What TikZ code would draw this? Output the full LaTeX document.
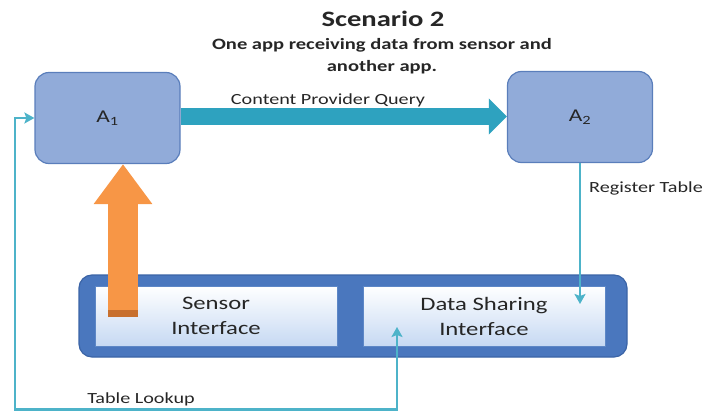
\documentclass[tikz,border=0pt]{standalone}
\usepackage{fontspec}
\setmainfont{Carlito}[FakeStretch=1.3]
\usetikzlibrary{arrows.meta,calc}
\definecolor{appfill}{HTML}{91ABD9}
\definecolor{appline}{HTML}{5A7EBB}
\definecolor{hostfill}{HTML}{4A77BE}
\definecolor{hostline}{HTML}{3B64A6}
\definecolor{ifbottom}{HTML}{C6D9F3}
\definecolor{ifline}{HTML}{5D87C6}
\definecolor{querycol}{HTML}{2EA2BF}
\definecolor{linkcol}{HTML}{4DB3C9}
\definecolor{sensorcol}{HTML}{F79646}
\definecolor{sensordark}{HTML}{C8702E}
\definecolor{txt}{HTML}{262626}
\begin{document}
\begin{tikzpicture}[x=1pt,y=-1pt,
  app/.style={draw=appline, line width=1.2pt, fill=appfill, rounded corners=14pt,
    minimum width=145pt, minimum height=91pt, font=\fontsize{18}{20}\selectfont, text=txt},
  host/.style={draw=hostline, line width=1.2pt, fill=hostfill, rounded corners=13pt,
    minimum width=548pt, minimum height=82pt},
  iface/.style={draw=ifline, line width=1pt, top color=white, bottom color=ifbottom,
    minimum width=242pt, minimum height=60pt, align=center, text=txt,
    font=\fontsize{19}{25}\selectfont},
  link/.style={draw=linkcol, line width=2.5pt, >={Stealth[length=10pt,width=11pt,inset=2pt]}},
  lbl/.style={text=txt, font=\fontsize{15.5}{18}\selectfont, inner sep=0pt}
]
\useasboundingbox (0,0) rectangle (707,412);

% headings
\node[text=txt, font=\bfseries\fontsize{22}{24}\selectfont] (title) at (383,19) {Scenario 2};
\node[text=txt, font=\bfseries\fontsize{15.8}{22}\selectfont, align=center, inner sep=0pt] (subtitle) at (382,56)
  {One app receiving data from sensor and\\another app.};

% applications
\node[app] (A1) at (107.5,118) {A\textsubscript{1}};
\node[app] (A2) at (580,117) {A\textsubscript{2}};

% host with its two interfaces
\node[host] (host) at (353,316) {};
\node[iface] (sensor) at (216,316) {Sensor\\Interface};
\node[iface] (share) at (484,316) {Data Sharing\\Interface};

% content provider query
\draw[querycol, line width=17pt, -{Triangle[length=18pt,width=35pt]}]
  ($(A1.east)+(0,-1.5)$) -- ($(A1.east -| A2.west)+(0,-1.5)$);
\node[lbl] (cpq) at (328,100) {Content Provider Query};

% sensor data flowing up into A1
\coordinate (orbase) at (123,317);
\draw[sensorcol, line width=30pt, -{Triangle[length=40pt,width=56pt]}]
  (orbase) -- (orbase |- A1.south);
\fill[sensordark] ($(orbase)+(-15,-7)$) rectangle ($(orbase)+(15,0)$);

% register table
\coordinate (regtip) at (580,304);
\draw[link, ->] (A2.south) -- (regtip);
\node[lbl, anchor=west] (reg) at (589,188) {Register Table};

% table lookup
\coordinate (looktip) at (397,327);
\coordinate (loopcorner) at (15,409.5);
\draw[link, <->] (looktip) |- (loopcorner) |- (A1.west);
\node[lbl] (look) at (141,399) {Table Lookup};
\end{tikzpicture}
\end{document}
